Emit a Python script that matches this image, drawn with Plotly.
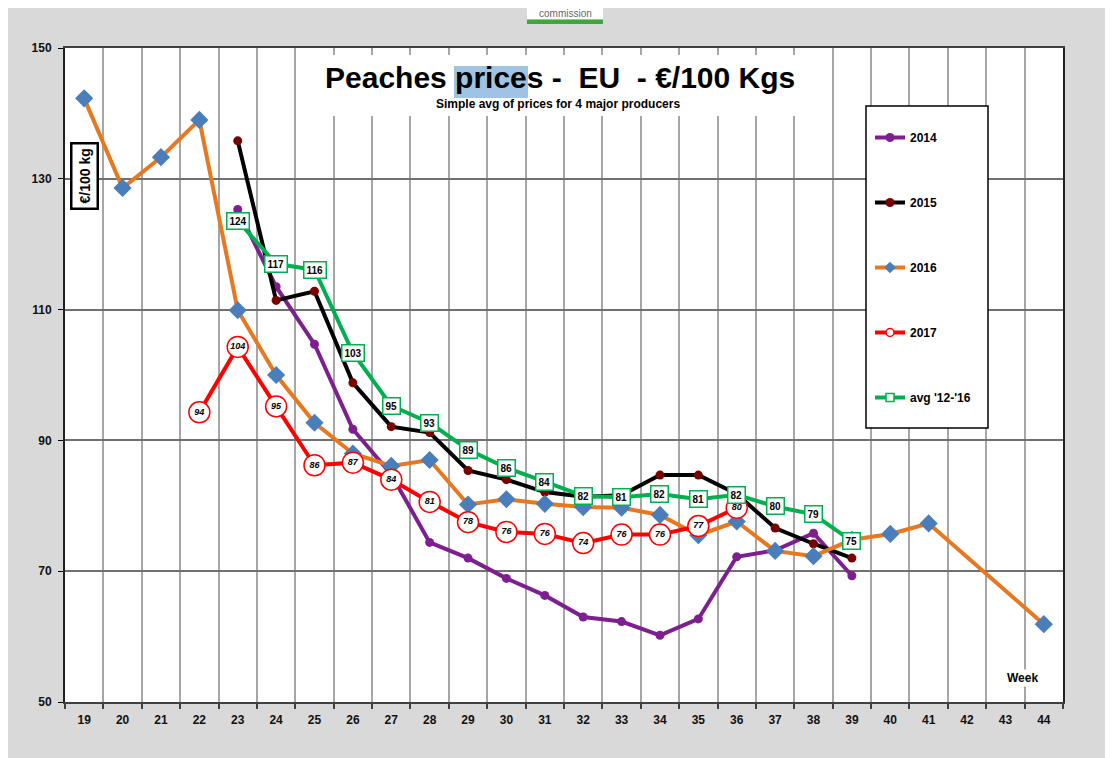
import plotly.graph_objects as go

# ---------------- data ----------------
weeks = list(range(19, 45))
week_labels = [str(w) for w in weeks]

N = None
s2014 = [N, N, N, N, 125.3, 113.5, 104.7, 91.7, 84.8, 74.4, 72.0, 68.9, 66.3, 63.0,
         62.3, 60.2, 62.7, 72.2, 73.2, 75.8, 69.3, N, N, N, N, N]
s2015 = [N, N, N, N, 135.8, 111.4, 112.8, 98.8, 92.1, 91.2, 85.4, 84.0, 82.1, 81.4,
         81.6, 84.7, 84.7, 81.8, 76.6, 74.2, 72.0, N, N, N, N, N]
s2016 = [142.3, 128.6, 133.3, 139.0, 109.9, 100.0, 92.7, 88.0, 86.1, 87.0, 80.2, 81.0,
         80.3, 79.8, 79.7, 78.6, 75.5, 77.6, 73.1, 72.3, 74.8, 75.7, 77.3, N, N, 61.9]
s2017 = [N, N, N, 94.3, 104.3, 95.2, 86.2, 86.6, 84.0, 80.6, 77.5, 76.0, 75.7, 74.3,
         75.6, 75.6, 76.9, 79.7, N, N, N, N, N, N, N, N]
avg1216 = [N, N, N, N, 123.6, 117.0, 116.1, 103.4, 95.3, 92.7, 88.6, 85.8, 83.7, 81.5,
           81.3, 81.8, 81.0, 81.7, 79.9, 78.7, 74.6, N, N, N, N, N]

series_names = ["2014", "2015", "2016", "2017", "avg '12-'16"]
y_ticks = [50, 70, 90, 110, 130, 150]

# ---------------- styles ----------------
FONT = "Liberation Sans, Arial, sans-serif"
PURPLE = "#7d1f8e"
BLACK = "#000000"
DARKRED = "#7a0000"
ORANGE = "#e8781f"
BLUE = "#4a7ebb"
RED = "#ff0000"
GREEN = "#00b050"
LW = 4

fig = go.Figure()

fig.add_trace(go.Scatter(x=weeks, y=s2014, mode="lines+markers", showlegend=False,
                         line=dict(color=PURPLE, width=LW),
                         marker=dict(symbol="circle", size=9, color=PURPLE)))
fig.add_trace(go.Scatter(x=weeks, y=s2015, mode="lines+markers", showlegend=False,
                         line=dict(color=BLACK, width=LW),
                         marker=dict(symbol="circle", size=9, color=DARKRED)))
fig.add_trace(go.Scatter(x=weeks, y=s2016, mode="lines+markers", showlegend=False,
                         connectgaps=True,
                         line=dict(color=ORANGE, width=LW),
                         marker=dict(symbol="diamond", size=14, color=BLUE)))
fig.add_trace(go.Scatter(x=weeks, y=s2017, mode="lines+markers+text", showlegend=False,
                         line=dict(color=RED, width=LW),
                         marker=dict(symbol="circle", size=21, color="white",
                                     line=dict(color=RED, width=1.5)),
                         texttemplate="%{y:.0f}", textposition="middle center",
                         textfont=dict(family=FONT, size=9, color="black",
                                       style="italic", weight="bold")))
fig.add_trace(go.Scatter(x=weeks, y=avg1216, mode="lines+markers", showlegend=False,
                         line=dict(color=GREEN, width=LW),
                         marker=dict(symbol="square", size=9, color="white",
                                     line=dict(color=GREEN, width=1.5))))

# legend-only traces
legend_styles = [
    dict(line=dict(color=PURPLE, width=LW), marker=dict(symbol="circle", size=9, color=PURPLE)),
    dict(line=dict(color=BLACK, width=LW), marker=dict(symbol="circle", size=9, color=DARKRED)),
    dict(line=dict(color=ORANGE, width=LW), marker=dict(symbol="diamond", size=9, color=BLUE)),
    dict(line=dict(color=RED, width=LW), marker=dict(symbol="circle", size=8, color="white",
                                                     line=dict(color=RED, width=1.5))),
    dict(line=dict(color=GREEN, width=LW), marker=dict(symbol="square", size=8, color="white",
                                                       line=dict(color=GREEN, width=1.5))),
]
for i, (name, st) in enumerate(zip(series_names, legend_styles)):
    fig.add_trace(go.Scatter(x=[None], y=[None], mode="lines+markers", name=name,
                             legendgroup=f"g{i}", showlegend=True, **st))

# ---------------- layout ----------------
# the page body has an 8px margin; screen coords -> figure coords
OFF = 8
L, T, W, H = 57, 40, 998, 654


def px(xs):
    return (xs - OFF - L) / W


def py(ys):
    return (T + H - (ys - OFF)) / H


shapes = [
    # "commission" tab
    dict(type="rect", xref="paper", yref="paper", x0=px(527), x1=px(603), y0=py(19.5), y1=1.3,
         fillcolor="white", line=dict(width=0), layer="above"),
    dict(type="rect", xref="paper", yref="paper", x0=px(527), x1=px(603), y0=py(24), y1=py(19.5),
         fillcolor="#3fa83a", line=dict(width=0), layer="above"),
    # title white box
    dict(type="rect", xref="paper", yref="paper", x0=px(312), x1=px(815), y0=py(116), y1=py(55),
         fillcolor="white", line=dict(width=0), layer="above"),
    # selection highlight on "prices"
    dict(type="rect", xref="paper", yref="paper", x0=px(454), x1=px(528), y0=py(98), y1=py(66),
         fillcolor="#9fc3e2", line=dict(width=0), layer="above"),
    # legend box
    dict(type="rect", xref="paper", yref="paper", x0=px(866), x1=px(988), y0=py(428), y1=py(106),
         fillcolor="white", line=dict(color="black", width=1.5), layer="above"),
]

C = dict(xanchor="center", yanchor="middle")
annotations = [
    dict(text="<b>Peaches prices -&nbsp; EU&nbsp; - €/100 Kgs</b>", x=px(559.5), y=py(78),
         xref="paper", yref="paper", showarrow=False, **C,
         font=dict(family=FONT, size=30, color="black")),
    dict(text="<b>Simple avg of prices for 4 major producers</b>", x=px(558), y=py(104),
         xref="paper", yref="paper", showarrow=False, **C,
         font=dict(family=FONT, size=12, color="black")),
    dict(text="<b>€/100 kg</b>", x=px(84), y=py(176), xref="paper", yref="paper",
         showarrow=False, textangle=-90, bgcolor="white", bordercolor="black", **C,
         borderwidth=2.5, borderpad=4, font=dict(family=FONT, size=14, color="black")),
    dict(text="<b>Week</b>", x=px(1022), y=py(678), xref="paper", yref="paper",
         showarrow=False, bgcolor="white", borderpad=1, **C,
         font=dict(family=FONT, size=12, color="black")),
    dict(text="commission", x=px(565), y=py(13.5), xref="paper", yref="paper",
         showarrow=False, **C, font=dict(family=FONT, size=10, color="#666666")),
]

# green value boxes for the 5-year average
for w, v in zip(weeks, avg1216):
    if v is None:
        continue
    annotations.append(dict(x=w, y=v, xref="x", yref="y", text=f"<b>{v:.0f}</b>",
                            showarrow=False, bgcolor="white", bordercolor=GREEN,
                            borderwidth=1.5, borderpad=2,
                            font=dict(family=FONT, size=10, color="black")))

fig.update_layout(
    width=1113, height=758,
    margin=dict(l=L, r=1113 - L - W, t=T, b=758 - T - H),
    paper_bgcolor="#d9d9d9", plot_bgcolor="white",
    font=dict(family=FONT, size=12, color="black"),
    showlegend=True,
    legend=dict(x=px(870), y=py(123), xanchor="left", yanchor="top",
                bgcolor="rgba(0,0,0,0)", borderwidth=0, tracegroupgap=46,
                itemwidth=30, font=dict(family=FONT, size=12, color="black", weight="bold")),
    shapes=shapes,
    annotations=annotations,
)

fig.update_xaxes(
    range=[18.5, 44.5], tickmode="array", tickvals=weeks, ticktext=week_labels,
    showgrid=False, ticks="", ticklabelstandoff=6,
    tickfont=dict(family=FONT, size=12, color="#111111", weight="bold"),
    showline=True, linecolor="#404040", linewidth=2, mirror=True,
    minor=dict(tickmode="array", tickvals=[w - 0.5 for w in weeks] + [44.5],
               showgrid=True, gridcolor="#a6a6a6", gridwidth=1.5,
               ticks="outside", ticklen=5, tickcolor="#404040", tickwidth=1.5),
    zeroline=False,
)
fig.update_yaxes(
    range=[50, 150], tickmode="array", tickvals=y_ticks,
    showgrid=True, gridcolor="#707070", gridwidth=1.5,
    ticks="outside", ticklen=5, tickcolor="black", ticklabelstandoff=4,
    tickfont=dict(family=FONT, size=12, color="#111111", weight="bold"),
    showline=True, linecolor="#202020", linewidth=2, mirror=True,
    zeroline=False,
)

fig.write_html("out.html")
